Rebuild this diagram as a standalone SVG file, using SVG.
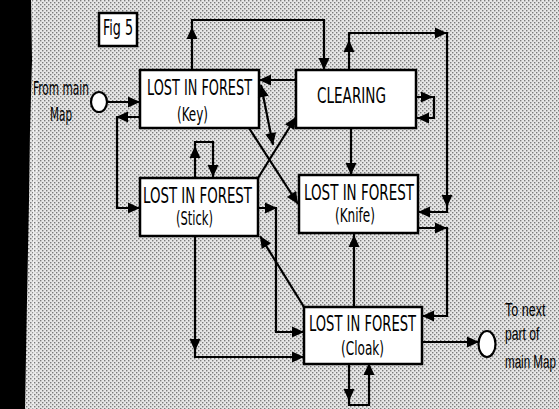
<svg xmlns="http://www.w3.org/2000/svg" xmlns:xlink="http://www.w3.org/1999/xlink" width="559" height="409" viewBox="0 0 559 409">
<style>
.box{fill:#fff;stroke:#000;stroke-width:2.5}
.ln{fill:none;stroke:#000;stroke-width:2.2}
.t{font-family:"Liberation Sans Narrow","DejaVu Sans Condensed","Liberation Sans",sans-serif;fill:#000}
.n{font-family:"Liberation Sans",Arial,sans-serif;fill:#000;font-size:19px}
.big{font-size:22px}
.sm{font-size:19px}
</style>
<defs>
<pattern id="dots" width="4" height="4" patternUnits="userSpaceOnUse">
<rect width="4" height="4" fill="#e6e6e6"/>
<rect x="0" y="0" width="1.4" height="1.4" fill="#7a7a7a"/>
<rect x="2" y="2" width="1.4" height="1.4" fill="#7a7a7a"/>
</pattern>
<path id="ah" d="M0,0 L-12,-5.5 L-12,5.5 Z" fill="#000"/>
</defs>
<rect width="559" height="409" fill="url(#dots)"/>
<polygon points="0,0 31,0 32,60 30,130 29,200 27,300 25,409 0,409" fill="#000"/>
<g stroke="#fff" stroke-width="1" opacity="0.7">
<line x1="34" y1="0" x2="33" y2="409"/>
<line x1="37" y1="20" x2="36" y2="380"/>
</g>

<g id="fig5">
<rect x="99" y="13" width="38" height="33" class="box"/>
<text x="103" y="35" class="t" style="font-size:21px" textLength="30" lengthAdjust="spacingAndGlyphs">Fig 5</text>
</g>

<g id="from-main">
<ellipse cx="99" cy="102" rx="8" ry="10" fill="#fff" stroke="#000" stroke-width="2.2"/>
<text x="33" y="95" class="t sm" textLength="56" lengthAdjust="spacingAndGlyphs">From main</text>
<text x="50" y="121" class="t sm" textLength="22" lengthAdjust="spacingAndGlyphs">Map</text>
</g>

<g id="next-part">
<ellipse cx="487" cy="344" rx="8.5" ry="13" fill="#fff" stroke="#000" stroke-width="2.2"/>
<text transform="translate(505,316) scale(0.66,1)" class="n">To next</text>
<text transform="translate(505,340) scale(0.64,1)" class="n">part of</text>
<text transform="translate(505,368) scale(0.61,1)" class="n">main Map</text>
</g>

<g id="key">
<rect x="140" y="70" width="119" height="58" class="box"/>
<text x="147" y="95" class="t big" textLength="105" lengthAdjust="spacingAndGlyphs">LOST IN FOREST</text>
<text x="177" y="121" class="t" style="font-size:20px" textLength="31" lengthAdjust="spacingAndGlyphs">(Key)</text>
</g>

<g id="clearing">
<rect x="296" y="70" width="120" height="58" class="box"/>
<text x="317" y="103" class="t big" textLength="69" lengthAdjust="spacingAndGlyphs">CLEARING</text>
</g>

<g id="stick">
<rect x="140" y="178" width="118" height="58" class="box"/>
<text x="143" y="203" class="t big" textLength="109" lengthAdjust="spacingAndGlyphs">LOST IN FOREST</text>
<text x="176" y="225" class="t" style="font-size:20px" textLength="37" lengthAdjust="spacingAndGlyphs">(Stick)</text>
</g>

<g id="knife">
<rect x="299" y="175" width="119" height="58" class="box"/>
<text x="304" y="200" class="t big" textLength="110" lengthAdjust="spacingAndGlyphs">LOST IN FOREST</text>
<text x="335" y="222" class="t" style="font-size:20px" textLength="40" lengthAdjust="spacingAndGlyphs">(Knife)</text>
</g>

<g id="cloak">
<rect x="304" y="307" width="118" height="57" class="box"/>
<text x="309" y="331" class="t big" textLength="107" lengthAdjust="spacingAndGlyphs">LOST IN FOREST</text>
<text x="341" y="355" class="t" style="font-size:20px" textLength="43" lengthAdjust="spacingAndGlyphs">(Cloak)</text>
</g>

<g id="connectors">
<line x1="107" y1="102" x2="140" y2="102" class="ln"/>
<use xlink:href="#ah" transform="translate(140,102)"/>

<polyline points="140,117 117,117 117,208 140,208" class="ln"/>
<use xlink:href="#ah" transform="translate(116,117) rotate(180)"/>
<use xlink:href="#ah" transform="translate(140,208)"/>

<polyline points="192,70 192,20 324,20 324,70" class="ln"/>
<use xlink:href="#ah" transform="translate(192,27) rotate(-90)"/>
<use xlink:href="#ah" transform="translate(324,70) rotate(90)"/>

<line x1="296" y1="80" x2="259" y2="80" class="ln"/>
<use xlink:href="#ah" transform="translate(259,80) rotate(180)"/>

<line x1="261" y1="85" x2="273" y2="145" class="ln"/>
<use xlink:href="#ah" transform="translate(261,85) rotate(-101)"/>
<use xlink:href="#ah" transform="translate(273,145) rotate(79)"/>

<line x1="258" y1="178" x2="296" y2="117" class="ln"/>
<use xlink:href="#ah" transform="translate(296,117) rotate(-58)"/>

<line x1="249" y1="128" x2="298" y2="204" class="ln"/>
<use xlink:href="#ah" transform="translate(298,204) rotate(57)"/>

<polyline points="195,178 195,142 213,142 213,178" class="ln"/>
<use xlink:href="#ah" transform="translate(195,146) rotate(-90)"/>
<use xlink:href="#ah" transform="translate(213,177) rotate(90)"/>

<polyline points="258,208 276,208 276,332 304,332" class="ln"/>
<use xlink:href="#ah" transform="translate(277,208)"/>
<use xlink:href="#ah" transform="translate(304,332)"/>

<line x1="304" y1="307" x2="260" y2="236" class="ln"/>
<use xlink:href="#ah" transform="translate(260,236) rotate(-122)"/>

<polyline points="195,236 195,357 304,357" class="ln"/>
<use xlink:href="#ah" transform="translate(195,351) rotate(90)"/>
<use xlink:href="#ah" transform="translate(304,357)"/>

<polyline points="416,97 434,97 434,118 416,118" class="ln"/>
<use xlink:href="#ah" transform="translate(433,97)"/>
<use xlink:href="#ah" transform="translate(417,118) rotate(180)"/>

<line x1="351" y1="128" x2="351" y2="175" class="ln"/>
<use xlink:href="#ah" transform="translate(351,175) rotate(90)"/>

<polyline points="349,70 349,33 447,33 447,212 418,212" class="ln"/>
<use xlink:href="#ah" transform="translate(349,40) rotate(-90)"/>
<use xlink:href="#ah" transform="translate(447,33)"/>
<use xlink:href="#ah" transform="translate(447,207) rotate(90)"/>
<use xlink:href="#ah" transform="translate(418,212) rotate(180)"/>

<polyline points="418,228 447,228 447,316 422,316" class="ln"/>
<use xlink:href="#ah" transform="translate(447,228)"/>
<use xlink:href="#ah" transform="translate(422,316) rotate(180)"/>

<line x1="354" y1="307" x2="354" y2="233" class="ln"/>
<use xlink:href="#ah" transform="translate(354,235) rotate(-90)"/>

<polyline points="349,364 349,405 369,405 369,364" class="ln"/>
<use xlink:href="#ah" transform="translate(349,401) rotate(90)"/>
<use xlink:href="#ah" transform="translate(369,363) rotate(-90)"/>

<line x1="422" y1="342" x2="479" y2="342" class="ln"/>
<use xlink:href="#ah" transform="translate(479,342)"/>
</g>
</svg>
